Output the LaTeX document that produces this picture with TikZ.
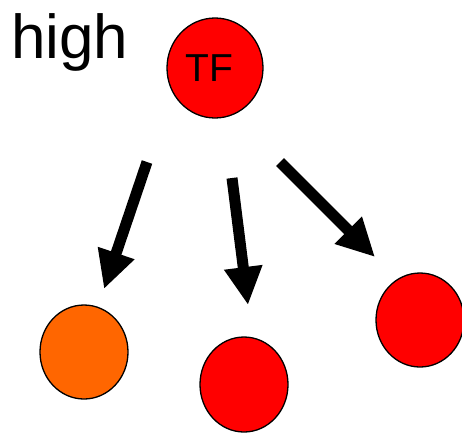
\documentclass[tikz,border=0pt]{standalone}
\usepackage{fontspec}
\setmainfont{Liberation Sans}
\usetikzlibrary{arrows.meta,shapes.geometric}
\definecolor{cred}{RGB}{255,0,0}
\definecolor{corange}{RGB}{255,102,0}
\tikzset{
  cell/.style={ellipse, draw=black, line width=1.3pt, inner sep=0pt},
  bigarrow/.style={line width=11pt, -{Triangle[width=36pt,length=38pt]}},
}
\begin{document}
\begin{tikzpicture}[x=1pt,y=-1pt]
\useasboundingbox (0,0) rectangle (462,432);
\node[anchor=base west, inner sep=0pt, font=\fontsize{62}{74}\selectfont] (high) at (11,58) {high};
\node[cell, fill=cred, minimum width=96pt, minimum height=100pt] (tf) at (215,68) {};
\node[font=\fontsize{39}{46}\selectfont, inner sep=0pt] (tflabel) at (209,68) {TF};
\node[cell, fill=corange, minimum width=88pt, minimum height=94pt] (c1) at (84,352) {};
\node[cell, fill=cred, minimum width=88pt, minimum height=95pt] (c2) at (244,384.5) {};
\node[cell, fill=cred, minimum width=88pt, minimum height=94pt] (c3) at (420,320) {};
\coordinate (a1s) at (147,162);
\coordinate (a1e) at (104,289);
\coordinate (a2s) at (232,178);
\coordinate (a2e) at (248,305);
\coordinate (a3s) at (280,162);
\coordinate (a3e) at (375,257);
\draw[bigarrow] (a1s) -- (a1e);
\draw[bigarrow] (a2s) -- (a2e);
\draw[bigarrow] (a3s) -- (a3e);
\end{tikzpicture}
\end{document}
